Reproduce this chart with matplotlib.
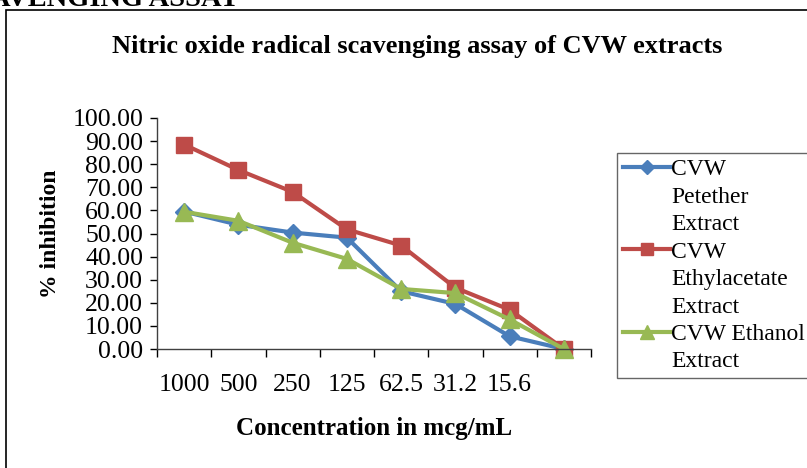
import matplotlib
matplotlib.use("Agg")
from matplotlib import pyplot as plt
from matplotlib.lines import Line2D
from matplotlib.patches import Rectangle

plt.rcParams['font.family'] = ['Liberation Serif', 'DejaVu Serif']

# data
categories = ["1000", "500", "250", "125", "62.5", "31.2", "15.6", ""]
petether = [59.5, 53.8, 50.4, 48.2, 25.0, 19.5, 5.5, 0.0]
ethylacetate = [88.5, 77.5, 68.0, 51.8, 44.8, 26.5, 17.0, 0.0]
ethanol = [59.4, 55.5, 46.0, 39.0, 26.0, 24.2, 12.8, 0.0]

fig = plt.figure(figsize=(8.07, 4.68), dpi=100)
ax = fig.add_axes([157 / 807, 1 - 349 / 468, 434 / 807, 231 / 468])

x = list(range(1, len(categories) + 1))
ax.plot(x, petether, color='#4A7EBB', lw=3, marker='D', ms=9, label='CVW Petether Extract')
ax.plot(x, ethylacetate, color='#BE4B48', lw=3, marker='s', ms=11.5, label='CVW Ethylacetate Extract')
ax.plot(x, ethanol, color='#98B954', lw=3, marker='^', ms=12.5, label='CVW Ethanol Extract')

ax.set_xlim(0.5, len(categories) + 0.5)
ax.set_ylim(0, 100)
ax.set_yticks(range(0, 101, 10))
ax.set_yticklabels(["%.2f" % v for v in range(0, 101, 10)], fontsize=18.5)
ax.set_xticks(x)
ax.set_xticklabels(categories, fontsize=18.5)
ax.set_xticks([i + 0.5 for i in range(0, len(categories) + 1)], minor=True)
ax.tick_params(axis='x', which='major', length=0, pad=18)
ax.tick_params(axis='x', which='minor', length=6, width=1)
ax.tick_params(axis='y', length=5, width=1, pad=5)
for s in ['top', 'right']:
    ax.spines[s].set_visible(False)
for s in ['left', 'bottom']:
    ax.spines[s].set_color('#404040')
    ax.spines[s].set_linewidth(1)
for ln in ax.lines:
    ln.set_clip_on(False)

ax.set_ylabel('% inhibition', fontsize=17, fontweight='bold', labelpad=8)
ax.set_xlabel('Concentration in mcg/mL', fontsize=18, fontweight='bold', labelpad=15)
fig.text(417 / 807, 1 - 46 / 468, 'Nitric oxide radical scavenging assay of CVW extracts',
         ha='center', va='center', fontsize=19, fontweight='bold')

# legend with handles on the first line of each entry
blank = Line2D([], [], linestyle='none')
lines = ax.lines
handles = [lines[0], blank, blank, lines[1], blank, blank, lines[2], blank]
labels = ['CVW', 'Petether', 'Extract', 'CVW', 'Ethylacetate', 'Extract', 'CVW Ethanol', 'Extract']
leg = fig.legend(handles, labels, loc='upper left', bbox_to_anchor=(617 / 807, 1 - 153 / 468),
                 frameon=True, fancybox=False, fontsize=17, handlelength=2.0, handletextpad=0.05,
                 labelspacing=0.25, borderpad=0.25, borderaxespad=0, markerscale=0.75)
leg.get_frame().set_edgecolor('#404040')
leg.get_frame().set_linewidth(1)

# outer chart border and cut-off heading
fig.patches.append(Rectangle((6 / 807, -0.1), 1.2, 1.1 - 10 / 468, transform=fig.transFigure,
                             fill=False, edgecolor='black', lw=1.2))
fig.text(-10 / 807, 1 - 6 / 468, 'AVENGING ASSAY', ha='left', va='baseline',
         fontsize=20.5, fontweight='bold')

fig.savefig('out.png', dpi=100)
